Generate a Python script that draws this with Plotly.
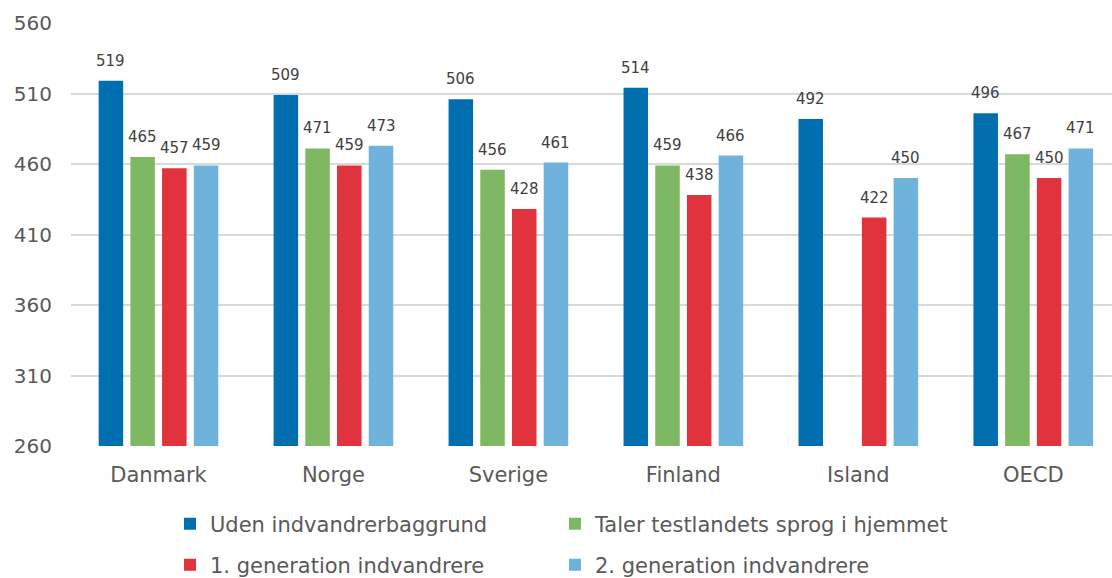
import plotly.graph_objects as go

categories = ["Danmark", "Norge", "Sverige", "Finland", "Island", "OECD"]
uden = [519, 509, 506, 514, 492, 496]
taler = [465, 471, 456, 459, None, 467]
gen1 = [457, 459, 428, 438, 422, 450]
gen2 = [459, 473, 461, 466, 450, 471]

series = [
    ("Uden indvandrerbaggrund", uden, "#006EAF", "legend"),
    ("Taler testlandets sprog i hjemmet", taler, "#7FB862", "legend2"),
    ("1. generation indvandrere", gen1, "#E0333D", "legend3"),
    ("2. generation indvandrere", gen2, "#6FB3DC", "legend4"),
]

FONT = "DejaVu Sans"
W, H = 1112, 578
ML, MR, MT, MB = 71, 0, 23, 132
XRANGE = [-0.5, 5.45]
BARGAP = 0.275

# pixel geometry of one bar slot, used to place the value labels over each bar
plot_w = W - ML - MR
cat_px = plot_w / (XRANGE[1] - XRANGE[0])
slot_px = cat_px * (1 - BARGAP) / len(series)

fig = go.Figure()
annotations = []
for i, (name, vals, color, lg) in enumerate(series):
    fig.add_trace(go.Bar(
        x=categories, y=vals, name=name, legend=lg,
        marker=dict(color=color, line=dict(width=0)),
    ))
    for cat, v in zip(categories, vals):
        if v is None:
            continue
        annotations.append(dict(
            x=cat, y=v, xref="x", yref="y", text=str(v), showarrow=False,
            xanchor="center", yanchor="bottom",
            xshift=(i - (len(series) - 1) / 2) * slot_px, yshift=9,
            font=dict(family=FONT, size=15, color="#404040"),
        ))

legend_common = dict(
    orientation="h", xanchor="left", yanchor="middle",
    xref="container", yref="container",
    font=dict(family=FONT, size=21, color="#595959"),
    bgcolor="rgba(0,0,0,0)", itemwidth=30,
)

# two columns x two rows of legend entries
col_x = [170 / W, 555 / W]
row_y = [1 - 524 / H, 1 - 565 / H]

fig.update_layout(
    width=W, height=H,
    margin=dict(l=ML, r=MR, t=MT, b=MB, autoexpand=False),
    paper_bgcolor="white", plot_bgcolor="white",
    barmode="group", bargap=BARGAP, bargroupgap=0.227,
    font=dict(family=FONT, color="#595959"),
    showlegend=True,
    legend=dict(x=col_x[0], y=row_y[0], **legend_common),
    legend2=dict(x=col_x[1], y=row_y[0], **legend_common),
    legend3=dict(x=col_x[0], y=row_y[1], **legend_common),
    legend4=dict(x=col_x[1], y=row_y[1], **legend_common),
    xaxis=dict(
        range=XRANGE,
        tickfont=dict(family=FONT, size=21, color="#595959"),
        showline=False, ticks="", showgrid=False,
        ticklabelstandoff=14,
    ),
    yaxis=dict(
        range=[260, 560], tick0=260, dtick=50,
        tickfont=dict(family=FONT, size=20, color="#595959"),
        showgrid=True, gridcolor="#D9D9D9", gridwidth=2,
        zeroline=False, showline=False, ticks="",
        ticklabelstandoff=18,
    ),
    annotations=annotations,
)

fig.write_html("out.html")
